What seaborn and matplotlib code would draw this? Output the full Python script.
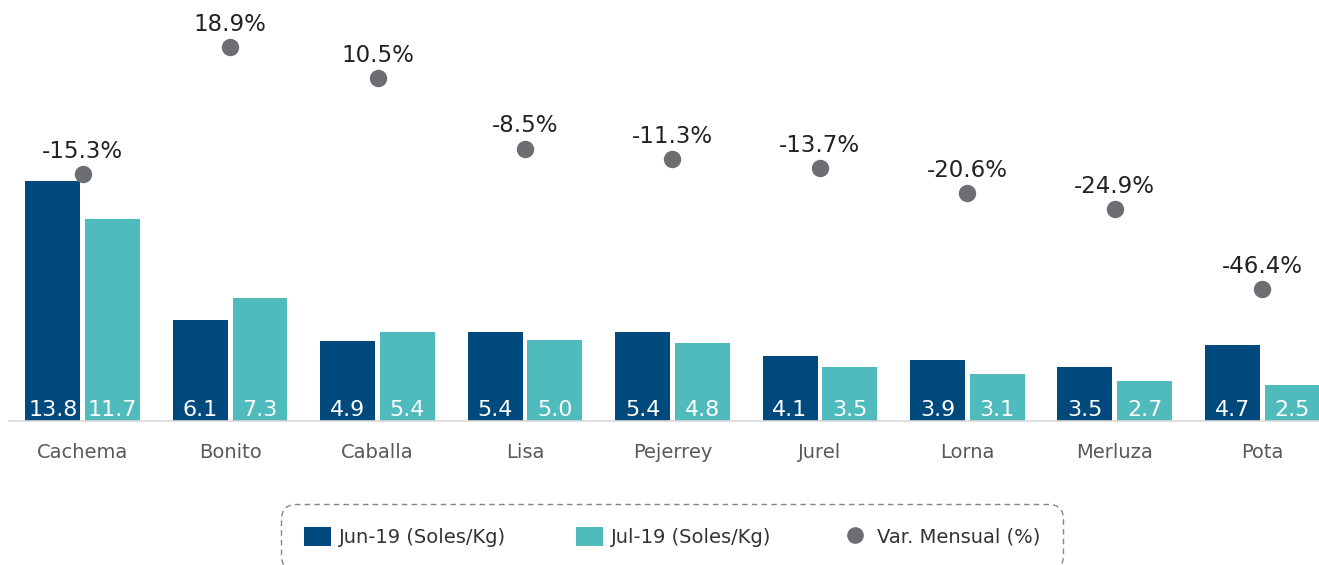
"""
Precio promedio por especie: Jun-19 vs Jul-19 y variación mensual
"""

import pandas as pd
import matplotlib
matplotlib.use("Agg")
import matplotlib.pyplot as plt
from matplotlib.patches import Patch
from matplotlib.lines import Line2D
import seaborn as sns

# Data
especies = ["Cachema", "Bonito", "Caballa", "Lisa", "Pejerrey", "Jurel", "Lorna", "Merluza", "Pota"]
precio_jun = [13.8, 6.1, 4.9, 5.4, 5.4, 4.1, 3.9, 3.5, 4.7]
precio_jul = [11.7, 7.3, 5.4, 5.0, 4.8, 3.5, 3.1, 2.7, 2.5]
var_mensual = [-15.3, 18.9, 10.5, -8.5, -11.3, -13.7, -20.6, -24.9, -46.4]
series = ["Jun-19 (Soles/Kg)", "Jul-19 (Soles/Kg)"]
var_label = "Var. Mensual (%)"

NAVY = "#00497C"
TEAL = "#4FBBBD"
DOT = "#6D6E71"

sns.set_theme(style="white")
plt.rcParams["font.family"] = ["DejaVu Sans"]

df = pd.DataFrame({
    "especie": especies * 2,
    "precio": precio_jun + precio_jul,
    "periodo": [series[0]] * len(especies) + [series[1]] * len(especies),
})

fig = plt.figure(figsize=(13.19, 5.65), dpi=100)
ax = fig.add_axes([9 / 1319, 144 / 565, 1 - 9 / 1319, 421 / 565])

sns.barplot(data=df, x="especie", y="precio", hue="periodo",
            palette=[NAVY, TEAL], width=0.81, gap=0.08, linewidth=0,
            saturation=1, legend=False, ax=ax)

y0 = 0.5
ax.set_ylim(y0, 23.8)

# value labels inside the bars, at the bottom
for cont in ax.containers:
    for bar in cont:
        val = bar.get_height()
        ax.annotate(f"{val:.1f}", xy=(bar.get_x() + bar.get_width() / 2, y0),
                    xytext=(0, 0.5), textcoords="offset points",
                    ha="center", va="bottom", color="white", fontsize=16)

# monthly variation on a secondary axis
ax2 = ax.twinx()
sns.pointplot(x=especies, y=var_mensual, ax=ax2, color=DOT,
              linestyle="none", marker="o", markersize=10.5, errorbar=None)
ax2.set_ylim(-82, 31.6)
for i, v in enumerate(var_mensual):
    ax2.annotate(f"{v:.1f}%", xy=(i, v), xytext=(0, 8), textcoords="offset points",
                 ha="center", va="bottom", color="#222222", fontsize=16.5)

ax.set_xlim(-0.5, 8.385)
ax.set_xlabel("")
ax.set_ylabel("")
ax2.set_ylabel("")
ax.set_yticks([])
ax2.set_yticks([])
ax.tick_params(axis="x", length=0, pad=16, labelsize=14, labelcolor="#595959")
for a in (ax, ax2):
    for side in ("top", "left", "right", "bottom"):
        a.spines[side].set_visible(False)
ax.spines["bottom"].set_visible(True)
ax.spines["bottom"].set_color("#D9D9D9")
ax.spines["bottom"].set_linewidth(1.2)

handles = [
    Patch(facecolor=NAVY, edgecolor="none", label=series[0]),
    Patch(facecolor=TEAL, edgecolor="none", label=series[1]),
    Line2D([], [], color=DOT, marker="o", linestyle="none", markersize=11, label=var_label),
]
leg = fig.legend(handles=handles, loc="center", bbox_to_anchor=(672 / 1319, 1 - 537 / 565),
                 ncol=3, fontsize=14, frameon=True, handlelength=1.4, handleheight=1.1,
                 handletextpad=0.4, columnspacing=3.6, borderpad=1.2, labelcolor="#333333")
frame = leg.get_frame()
frame.set_linestyle((0, (4, 3)))
frame.set_edgecolor("#666666")
frame.set_linewidth(1.0)
frame.set_boxstyle("round,pad=0,rounding_size=0.8")

fig.savefig("out.png", dpi=100, facecolor="white")
